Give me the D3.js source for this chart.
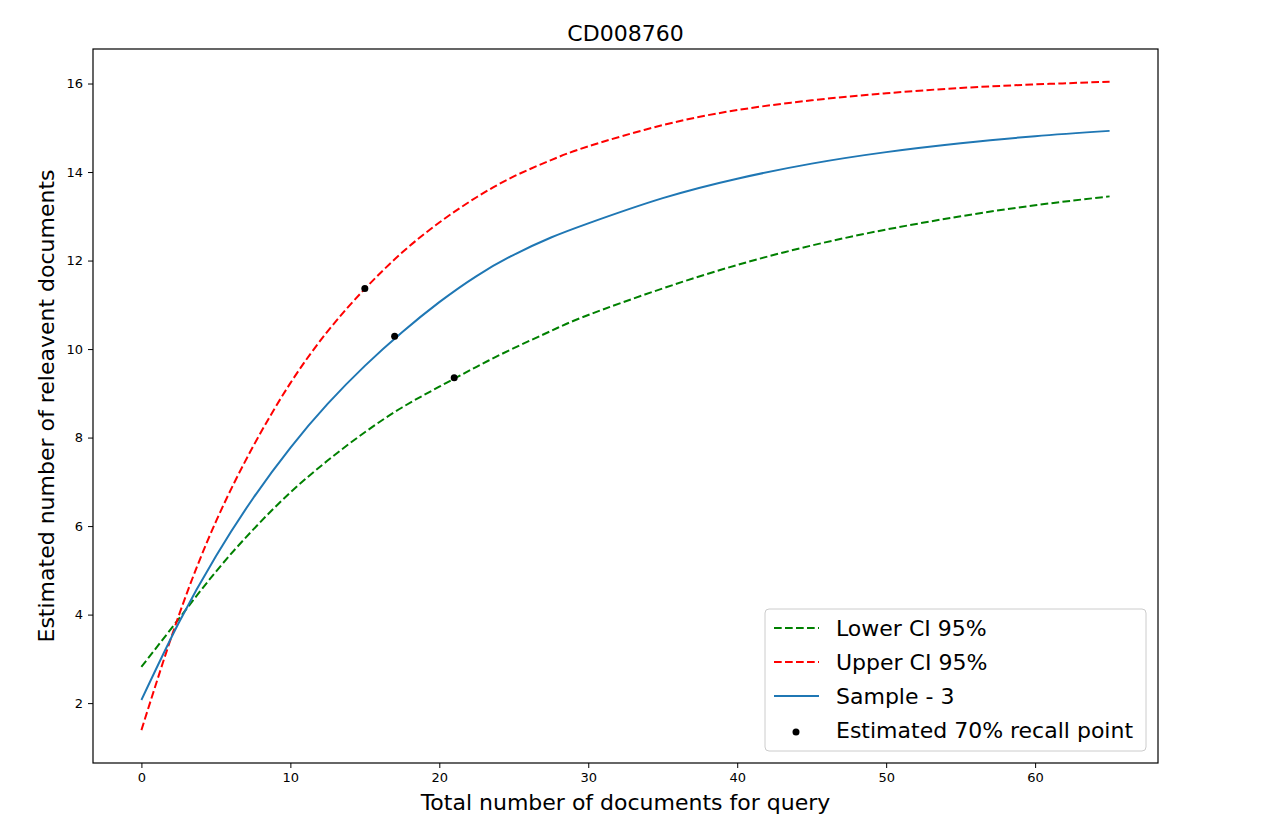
<!DOCTYPE html>
<html>
<head>
<meta charset="utf-8">
<script src="https://cdn.jsdelivr.net/npm/d3@7"></script>
<style>
  body { margin: 0; background: #fff; }
  svg text { font-family: "DejaVu Sans", sans-serif; }
</style>
</head>
<body>
<svg id="chart" width="1264" height="829"></svg>
<script>
// values
var docs = [0, 2.5, 5, 7.5, 10, 12.5, 15, 17.5, 20, 22.5, 25, 27.5, 30, 35, 40, 45, 50, 55, 60, 65];
var lowerCI = [2.82, 3.9, 4.97, 5.92, 6.76, 7.48, 8.12, 8.68, 9.15, 9.6, 10.02, 10.41, 10.77, 11.37, 11.9, 12.34, 12.7, 13.0, 13.25, 13.45];
var upperCI = [1.39, 3.97, 6.1, 7.8, 9.23, 10.4, 11.36, 12.18, 12.86, 13.43, 13.9, 14.27, 14.58, 15.06, 15.4, 15.62, 15.78, 15.9, 15.98, 16.04];
var sample3 = [2.07, 3.81, 5.32, 6.63, 7.77, 8.76, 9.62, 10.38, 11.06, 11.65, 12.13, 12.52, 12.84, 13.41, 13.85, 14.19, 14.45, 14.65, 14.81, 14.93];
var recallX = [15, 17, 21];
var recallY = [11.37, 10.29, 9.35];
var xTicks = [0, 10, 20, 30, 40, 50, 60];
var yTicks = [2, 4, 6, 8, 10, 12, 14, 16];

var margin = { top: 49, right: 106, bottom: 66, left: 93 },
  W = 1264, H = 829,
  w = W - margin.left - margin.right,
  h = H - margin.top - margin.bottom;

var svg = d3.select('#chart');
var g = svg.append('g').attr('transform', `translate(${margin.left}, ${margin.top})`);

var x_scale = d3.scaleLinear().domain([-3.25, 68.25]).range([0, w]);
var y_scale = d3.scaleLinear().domain([0.647, 16.78]).range([h, 0]);

var series = [
  { name: 'Lower CI 95%', vals: lowerCI, color: 'green', dash: '7.7,3.3' },
  { name: 'Upper CI 95%', vals: upperCI, color: 'red', dash: '7.7,3.3' },
  { name: 'Sample - 3', vals: sample3, color: '#1f77b4', dash: null }
];

var line = d3.line()
  .x(function(d) { return x_scale(d[0]); })
  .y(function(d) { return y_scale(d[1]); })
  .curve(d3.curveNatural);

series.forEach(function(s) {
  g.append('path')
    .datum(docs.map(function(d, i) { return [d, s.vals[i]]; }))
    .attr('d', line)
    .attr('fill', 'none')
    .attr('stroke', s.color)
    .attr('stroke-width', 2)
    .attr('stroke-dasharray', s.dash);
});

// recall points
g.selectAll('.pt')
  .data(recallX.map(function(d, i) { return [d, recallY[i]]; }))
  .join('circle')
  .attr('class', 'pt')
  .attr('cx', function(d) { return x_scale(d[0]); })
  .attr('cy', function(d) { return y_scale(d[1]); })
  .attr('r', 3.5)
  .attr('fill', 'black');

// axes
var xAxis = g.append('g').attr('transform', `translate(0, ${h})`)
  .call(d3.axisBottom(x_scale).tickValues(xTicks).tickSize(5).tickPadding(5));
var yAxis = g.append('g')
  .call(d3.axisLeft(y_scale).tickValues(yTicks).tickSize(5).tickPadding(5));
[xAxis, yAxis].forEach(function(a) {
  a.select('.domain').remove();
  a.selectAll('text').attr('font-size', 13).attr('fill', '#000')
    .attr('font-family', '"DejaVu Sans", sans-serif');
  a.selectAll('line').attr('stroke', '#000').attr('stroke-width', 1);
});

// frame
g.append('rect')
  .attr('width', w).attr('height', h)
  .attr('fill', 'none').attr('stroke', '#000').attr('stroke-width', 1.2);

// title and axis names
svg.append('text')
  .attr('x', margin.left + w / 2).attr('y', 41)
  .attr('text-anchor', 'middle').attr('font-size', 22)
  .text('CD008760');
svg.append('text')
  .attr('x', margin.left + w / 2).attr('y', 810)
  .attr('text-anchor', 'middle').attr('font-size', 22)
  .text('Total number of documents for query');
svg.append('text')
  .attr('transform', `translate(54, ${margin.top + h / 2}) rotate(-90)`)
  .attr('text-anchor', 'middle').attr('font-size', 22)
  .text('Estimated number of releavent documents');

// legend
var lg = svg.append('g').attr('transform', 'translate(765, 609)');
lg.append('rect')
  .attr('width', 381).attr('height', 142).attr('rx', 4)
  .attr('fill', 'white').attr('fill-opacity', 0.8)
  .attr('stroke', '#ccc').attr('stroke-width', 1);
var legendItems = series.concat([{ name: 'Estimated 70% recall point', color: 'black', dot: true }]);
legendItems.forEach(function(s, i) {
  var yy = 19 + i * 34;
  if (s.dot) {
    lg.append('circle').attr('cx', 31).attr('cy', yy + 2).attr('r', 3.5).attr('fill', 'black');
  } else {
    lg.append('line')
      .attr('x1', 9).attr('x2', 54).attr('y1', yy).attr('y2', yy)
      .attr('stroke', s.color).attr('stroke-width', 2)
      .attr('stroke-dasharray', s.dash);
  }
  lg.append('text')
    .attr('x', 71).attr('y', yy + 8)
    .attr('font-size', 22)
    .text(s.name);
});
</script>
</body>
</html>
